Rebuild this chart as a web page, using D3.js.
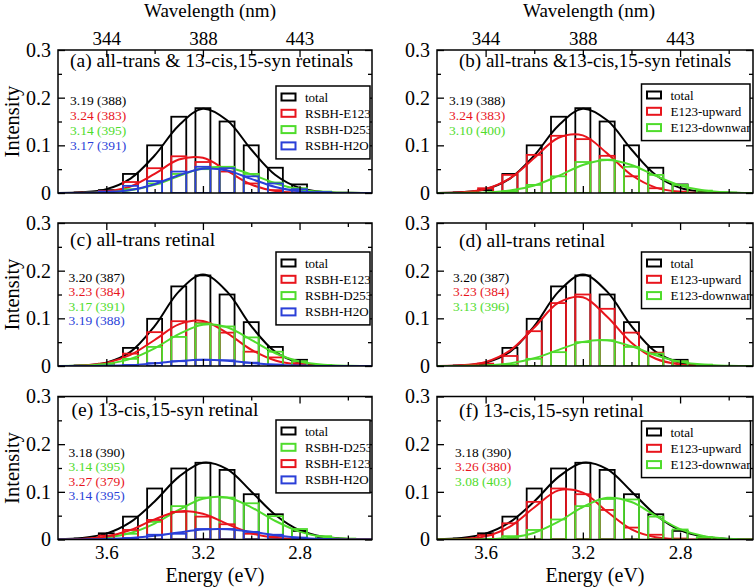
<!DOCTYPE html>
<html><head><meta charset="utf-8">
<script src="https://cdn.jsdelivr.net/npm/d3@7"></script>
<style>
body{margin:0;background:#fff}
svg{display:block}
text{font-family:"Liberation Serif","Times New Roman",serif}
</style>
</head><body>
<svg id="chart" width="756" height="587"></svg>
<script>
// ---------------- DATA ----------------
const binEnergies   = [3.7, 3.6, 3.5, 3.4, 3.3, 3.2, 3.1, 3.0, 2.9, 2.8, 2.7, 2.6];
const curveEnergies = [3.8, 3.7, 3.6, 3.5, 3.4, 3.3, 3.2, 3.1, 3.0, 2.9, 2.8, 2.7, 2.6, 2.5];

const xTickMajor = [3.6, 3.2, 2.8];
const xTickMinor = [3.4, 3.0, 2.6];
const energyTickLabels = ["3.6", "3.2", "2.8"];
const wavelengthTickLabels = ["344", "388", "443"];
const yTickMajor = [0, 0.1, 0.2, 0.3];
const yTickMinor = [0.05, 0.15, 0.25];
const yTickLabels = ["0", "0.1", "0.2", "0.3"];

// (a)/(b) all-trans & 13-cis,15-syn
const barsTotalAB  = [0.001, 0.006, 0.040, 0.100, 0.160, 0.178, 0.150, 0.100, 0.053, 0.018, 0.002, 0];
const curveTotalAB = [0.0002, 0.0015, 0.0081, 0.0303, 0.0787, 0.1418, 0.1767, 0.1525, 0.0912, 0.0378, 0.0108, 0.0022, 0.0003, 0];
const barsE123_a   = [0, 0.004, 0.023, 0.052, 0.077, 0.065, 0.045, 0.020, 0.006, 0.001, 0, 0];
const curveE123_a  = [0, 0.0003, 0.0028, 0.0137, 0.040, 0.0702, 0.0739, 0.0467, 0.0177, 0.004, 0.0006, 0.0001, 0, 0];
const barsD253_a   = [0, 0.002, 0.008, 0.020, 0.040, 0.050, 0.055, 0.040, 0.022, 0.010, 0.003, 0];
const curveD253_a  = [0, 0.0002, 0.0014, 0.0058, 0.0171, 0.0353, 0.0517, 0.0535, 0.0392, 0.0203, 0.0074, 0.0019, 0.0004, 0];
const barsH2O_a    = [0, 0.003, 0.015, 0.025, 0.045, 0.055, 0.052, 0.035, 0.020, 0.008, 0.002, 0];
const curveH2O_a   = [0, 0.0002, 0.0014, 0.0062, 0.0185, 0.0374, 0.0511, 0.0473, 0.0296, 0.0125, 0.0036, 0.0007, 0.0001, 0];
const barsUp_b     = [0, 0.010, 0.038, 0.080, 0.120, 0.113, 0.078, 0.035, 0.010, 0.003, 0, 0];
const curveUp_b    = [0.0002, 0.0015, 0.0084, 0.0306, 0.0734, 0.116, 0.1209, 0.0831, 0.0377, 0.0113, 0.0022, 0.0003, 0, 0];
const barsDown_b   = [0, 0, 0.004, 0.017, 0.035, 0.065, 0.070, 0.055, 0.038, 0.017, 0.005, 0.001];
const curveDown_b  = [0, 0.0002, 0.0012, 0.0051, 0.0159, 0.0359, 0.0586, 0.069, 0.0586, 0.0359, 0.0159, 0.0051, 0.0012, 0.0002];

// (c)/(d) all-trans
const barsTotalCD  = [0.001, 0.004, 0.038, 0.099, 0.167, 0.190, 0.150, 0.092, 0.040, 0.013, 0.002, 0];
const curveTotalCD = [0.0001, 0.0011, 0.0069, 0.0295, 0.0836, 0.156, 0.192, 0.156, 0.0836, 0.0295, 0.0069, 0.0011, 0.0001, 0];
const barsE123_c   = [0, 0.005, 0.026, 0.071, 0.094, 0.090, 0.070, 0.030, 0.018, 0.006, 0, 0];
const curveE123_c  = [0.0002, 0.0013, 0.0066, 0.0232, 0.0546, 0.0873, 0.0943, 0.069, 0.0342, 0.0114, 0.0026, 0.0004, 0, 0];
const barsD253_c   = [0, 0.003, 0.015, 0.040, 0.061, 0.089, 0.083, 0.060, 0.030, 0.010, 0.002, 0];
const curveD253_c  = [0.0001, 0.0009, 0.0043, 0.0149, 0.0371, 0.0668, 0.0867, 0.0812, 0.0549, 0.0268, 0.0094, 0.0024, 0.0004, 0.0001];
const barsH2O_c    = [0, 0, 0.002, 0.006, 0.010, 0.013, 0.012, 0.007, 0.003, 0.001, 0, 0];
const curveH2O_c   = [0, 0.0001, 0.0005, 0.002, 0.0055, 0.0103, 0.013, 0.0111, 0.0064, 0.0025, 0.0007, 0.0001, 0, 0];
const barsUp_d     = [0, 0.005, 0.021, 0.073, 0.132, 0.150, 0.120, 0.070, 0.028, 0.009, 0.002, 0];
const curveUp_d    = [0.0002, 0.0015, 0.0085, 0.0323, 0.0806, 0.1327, 0.1443, 0.1034, 0.0489, 0.0152, 0.0031, 0.0004, 0, 0];
const barsDown_d   = [0, 0, 0.003, 0.015, 0.029, 0.050, 0.054, 0.040, 0.026, 0.010, 0.003, 0];
const curveDown_d  = [0, 0.0002, 0.0013, 0.0055, 0.0161, 0.0338, 0.0506, 0.0542, 0.0413, 0.0225, 0.0087, 0.0024, 0.0005, 0.0001];

// (e)/(f) 13-cis,15-syn
const barsTotalEF  = [0.002, 0.013, 0.048, 0.107, 0.149, 0.161, 0.146, 0.095, 0.053, 0.018, 0.003, 0];
const curveTotalEF = [0.0006, 0.0031, 0.0123, 0.0363, 0.0799, 0.1313, 0.161, 0.1476, 0.1009, 0.0515, 0.0196, 0.0056, 0.0012, 0.0002];
const barsD253_e   = [0, 0.002, 0.012, 0.037, 0.070, 0.088, 0.088, 0.076, 0.049, 0.022, 0.007, 0.002];
const curveD253_e  = [0.0002, 0.0009, 0.0041, 0.0136, 0.0335, 0.0619, 0.0854, 0.0879, 0.0676, 0.0388, 0.0166, 0.0053, 0.0013, 0.0002];
const barsE123_e   = [0, 0.008, 0.020, 0.041, 0.058, 0.048, 0.032, 0.012, 0.006, 0.002, 0, 0];
const curveE123_e  = [0.0002, 0.0013, 0.0062, 0.020, 0.0422, 0.0589, 0.0542, 0.0329, 0.0132, 0.0035, 0.0006, 0.0001, 0, 0];
const barsH2O_e    = [0, 0, 0.003, 0.010, 0.012, 0.022, 0.022, 0.016, 0.010, 0.004, 0.001, 0];
const curveH2O_e   = [0, 0.0002, 0.0008, 0.003, 0.0077, 0.0148, 0.0208, 0.0215, 0.0163, 0.009, 0.0037, 0.0011, 0.0002, 0];
const barsUp_f     = [0, 0.009, 0.034, 0.079, 0.107, 0.095, 0.062, 0.025, 0.010, 0.002, 0, 0];
const curveUp_f    = [0.0001, 0.0011, 0.0068, 0.0272, 0.0671, 0.103, 0.0982, 0.0582, 0.0214, 0.0049, 0.0007, 0.0001, 0, 0];
const barsDown_f   = [0, 0, 0.007, 0.020, 0.042, 0.070, 0.085, 0.084, 0.048, 0.021, 0.005, 0.001];
const curveDown_f  = [0, 0.0001, 0.0007, 0.0039, 0.0143, 0.0374, 0.0682, 0.0874, 0.0786, 0.0496, 0.0219, 0.0068, 0.0015, 0.0002];

const titles = [
  "(a) all-trans & 13-cis,15-syn retinals",
  "(b) all-trans &13-cis,15-syn retinals",
  "(c) all-trans retinal",
  "(d) all-trans retinal",
  "(e) 13-cis,15-syn retinal",
  "(f) 13-cis,15-syn retinal"
];
const labelsABC = ["total", "RSBH-E123", "RSBH-D253", "RSBH-H2O"];
const labelsE   = ["total", "RSBH-D253", "RSBH-E123", "RSBH-H2O"];
const labelsUpDown = ["total", "E123-upward", "E123-downward"];
const notesA = ["3.19 (388)", "3.24 (383)", "3.14 (395)", "3.17 (391)"];
const notesB = ["3.19 (388)", "3.24 (383)", "3.10 (400)"];
const notesC = ["3.20 (387)", "3.23 (384)", "3.17 (391)", "3.19 (388)"];
const notesD = ["3.20 (387)", "3.23 (384)", "3.13 (396)"];
const notesE = ["3.18 (390)", "3.14 (395)", "3.27 (379)", "3.14 (395)"];
const notesF = ["3.18 (390)", "3.26 (380)", "3.08 (403)"];

// ---------------- STYLE / LAYOUT ----------------
const COL = {black:"#000000", red:"#e8141c", green:"#4fdc2c", blue:"#2a3fd8"};
const FONT = '"Liberation Serif","Times New Roman",serif';
const energyDomain = [3.8, 2.5];
const barWidthEV = 0.062;
const cols = [{x0:58, x1:372}, {x0:437, x1:753}];
const rows = [{y0:50, y1:193}, {y0:223, y1:366}, {y0:396.5, y1:539.5}];

const panels = [
  {col:0,row:0,title:titles[0],tx:70, ty:67, tfs:19.5, labels:labelsABC,
   colors:[COL.black,COL.red,COL.green,COL.blue],
   bars:[barsTotalAB,barsE123_a,barsD253_a,barsH2O_a], curves:[curveTotalAB,curveE123_a,curveD253_a,curveH2O_a],
   notes:notesA, nx:70, ny:[105,120,135,150], lg:{x0:276,y0:86,x1:370}},
  {col:1,row:0,title:titles[1],tx:459, ty:67, tfs:19, labels:labelsUpDown,
   colors:[COL.black,COL.red,COL.green],
   bars:[barsTotalAB,barsUp_b,barsDown_b], curves:[curveTotalAB,curveUp_b,curveDown_b],
   notes:notesB, nx:449, ny:[105,120,135], lg:{x0:641.5,y0:84,x1:750}},
  {col:0,row:1,title:titles[2],tx:70, ty:246, tfs:19.5, labels:labelsABC,
   colors:[COL.black,COL.red,COL.green,COL.blue],
   bars:[barsTotalCD,barsE123_c,barsD253_c,barsH2O_c], curves:[curveTotalCD,curveE123_c,curveD253_c,curveH2O_c],
   notes:notesC, nx:68.5, ny:[281.5,296,310.5,325], lg:{x0:276,y0:252,x1:370}},
  {col:1,row:1,title:titles[3],tx:459, ty:246.5, tfs:19.5, labels:labelsUpDown,
   colors:[COL.black,COL.red,COL.green],
   bars:[barsTotalCD,barsUp_d,barsDown_d], curves:[curveTotalCD,curveUp_d,curveDown_d],
   notes:notesD, nx:453, ny:[281.5,296,310.5], lg:{x0:641.5,y0:252,x1:750.5}},
  {col:0,row:2,title:titles[4],tx:71.5, ty:416, tfs:19.5, labels:labelsE,
   colors:[COL.black,COL.green,COL.red,COL.blue],
   bars:[barsTotalEF,barsD253_e,barsE123_e,barsH2O_e], curves:[curveTotalEF,curveD253_e,curveE123_e,curveH2O_e],
   notes:notesE, nx:68.5, ny:[456.5,471,485.5,500], lg:{x0:276,y0:420,x1:370}},
  {col:1,row:2,title:titles[5],tx:459, ty:416.5, tfs:19.5, labels:labelsUpDown,
   colors:[COL.black,COL.red,COL.green],
   bars:[barsTotalEF,barsUp_f,barsDown_f], curves:[curveTotalEF,curveUp_f,curveDown_f],
   notes:notesF, nx:455, ny:[456.5,471,485.5], lg:{x0:641.5,y0:421,x1:750.5}}
];

const svg = d3.select("#chart");
const defs = svg.append("defs");

panels.forEach((p, pi) => {
  const c = cols[p.col], r = rows[p.row];
  const x = d3.scaleLinear().domain(energyDomain).range([c.x0, c.x1]);
  const y = d3.scaleLinear().domain([0, 0.3]).range([r.y1, r.y0]);
  const g = svg.append("g");

  const clipId = "clip" + pi;
  defs.append("clipPath").attr("id", clipId).append("rect")
    .attr("x", c.x0).attr("y", r.y0).attr("width", c.x1 - c.x0).attr("height", r.y1 - r.y0);
  const plot = g.append("g").attr("clip-path", `url(#${clipId})`);

  const line = d3.line().x(d => x(d[0])).y(d => y(d[1])).curve(d3.curveCatmullRom.alpha(0.5));

  p.bars.forEach((bars, si) => {
    const col = p.colors[si];
    plot.append("g").selectAll("rect")
      .data(binEnergies.map((e, i) => ({e, v: bars[i]})).filter(d => d.v > 0))
      .join("rect")
      .attr("x", d => x(d.e + barWidthEV / 2))
      .attr("width", d => x(d.e - barWidthEV / 2) - x(d.e + barWidthEV / 2))
      .attr("y", d => y(d.v))
      .attr("height", d => y(0) - y(d.v))
      .attr("fill", "none").attr("stroke", col).attr("stroke-width", 1.8);
    plot.append("path")
      .datum(curveEnergies.map((e, i) => [e, p.curves[si][i]]))
      .attr("d", line).attr("fill", "none").attr("stroke", col).attr("stroke-width", 2);
  });

  function styleAxis(sel, fs) {
    sel.select(".domain").remove();
    sel.selectAll("line").attr("stroke-width", 1.3);
    sel.attr("font-family", FONT).attr("font-size", fs);
    sel.selectAll("text").attr("fill", "#000").attr("font-family", FONT);
  }
  const isTop = p.row === 0, isBottom = p.row === 2;
  const bMaj = g.append("g").attr("transform", `translate(0,${r.y1})`)
    .call(d3.axisBottom(x).tickValues(xTickMajor).tickSize(-7).tickPadding(6)
      .tickFormat((d, i) => isBottom ? energyTickLabels[i] : ""));
  styleAxis(bMaj, 19);
  const bMin = g.append("g").attr("transform", `translate(0,${r.y1})`)
    .call(d3.axisBottom(x).tickValues(xTickMinor).tickSize(-4).tickFormat(""));
  styleAxis(bMin, 19);
  const tMaj = g.append("g").attr("transform", `translate(0,${r.y0})`)
    .call(d3.axisTop(x).tickValues(xTickMajor).tickSize(-7).tickPadding(5)
      .tickFormat((d, i) => isTop ? wavelengthTickLabels[i] : ""));
  styleAxis(tMaj, 19);
  const tMin = g.append("g").attr("transform", `translate(0,${r.y0})`)
    .call(d3.axisTop(x).tickValues(xTickMinor).tickSize(-4).tickFormat(""));
  styleAxis(tMin, 19);
  const lMaj = g.append("g").attr("transform", `translate(${c.x0},0)`)
    .call(d3.axisLeft(y).tickValues(yTickMajor).tickSize(-7).tickPadding(7)
      .tickFormat((d, i) => yTickLabels[i]));
  styleAxis(lMaj, 20);
  const lMin = g.append("g").attr("transform", `translate(${c.x0},0)`)
    .call(d3.axisLeft(y).tickValues(yTickMinor).tickSize(-4).tickFormat(""));
  styleAxis(lMin, 20);
  const rMaj = g.append("g").attr("transform", `translate(${c.x1},0)`)
    .call(d3.axisRight(y).tickValues(yTickMajor).tickSize(-7).tickFormat(""));
  styleAxis(rMaj, 20);
  const rMin = g.append("g").attr("transform", `translate(${c.x1},0)`)
    .call(d3.axisRight(y).tickValues(yTickMinor).tickSize(-4).tickFormat(""));
  styleAxis(rMin, 20);

  g.append("rect").attr("x", c.x0).attr("y", r.y0)
    .attr("width", c.x1 - c.x0).attr("height", r.y1 - r.y0)
    .attr("fill", "none").attr("stroke", "#000").attr("stroke-width", 1.5);

  g.append("text").attr("x", p.tx).attr("y", p.ty).attr("font-size", p.tfs)
    .attr("font-family", FONT).text(p.title);

  p.notes.forEach((t, i) => {
    g.append("text").attr("x", p.nx).attr("y", p.ny[i]).attr("font-size", 13.5)
      .attr("font-family", FONT).attr("fill", p.colors[i]).text(t);
  });

  const n = p.labels.length, rowGap = 16.3;
  const lgH = 11 + (n - 1) * rowGap + 13;
  const lgClip = "lgclip" + pi;
  defs.append("clipPath").attr("id", lgClip).append("rect")
    .attr("x", p.lg.x0).attr("y", p.lg.y0).attr("width", p.lg.x1 - p.lg.x0).attr("height", lgH);
  const lg = g.append("g");
  lg.append("rect").attr("x", p.lg.x0).attr("y", p.lg.y0)
    .attr("width", p.lg.x1 - p.lg.x0).attr("height", lgH)
    .attr("fill", "#fff").attr("stroke", "#000").attr("stroke-width", 1.5);
  const lgInner = lg.append("g").attr("clip-path", `url(#${lgClip})`);
  p.labels.forEach((lab, i) => {
    const ry = p.lg.y0 + 11 + i * rowGap;
    lgInner.append("rect").attr("x", p.lg.x0 + 5.5).attr("y", ry - 3.5)
      .attr("width", 14).attr("height", 7)
      .attr("fill", "none").attr("stroke", p.colors[i]).attr("stroke-width", 2);
    lgInner.append("text").attr("x", p.lg.x0 + 29).attr("y", ry).attr("dy", "0.35em")
      .attr("font-size", 13).attr("font-family", FONT).attr("fill", "#000").text(lab);
  });
});

[0, 1].forEach(ci => {
  const c = cols[ci];
  svg.append("text").attr("x", ci === 0 ? 210 : 589).attr("y", 17)
    .attr("text-anchor", "middle").attr("font-size", 19).attr("font-family", FONT)
    .text("Wavelength (nm)");
  svg.append("text").attr("x", (c.x0 + c.x1) / 2).attr("y", 582)
    .attr("text-anchor", "middle").attr("font-size", 20).attr("font-family", FONT)
    .text("Energy (eV)");
});
rows.forEach(r => {
  const cy = (r.y0 + r.y1) / 2;
  svg.append("text").attr("transform", `translate(19,${cy}) rotate(-90)`)
    .attr("text-anchor", "middle").attr("font-size", 20.5).attr("font-family", FONT)
    .text("Intensity");
});
</script>
</body></html>
